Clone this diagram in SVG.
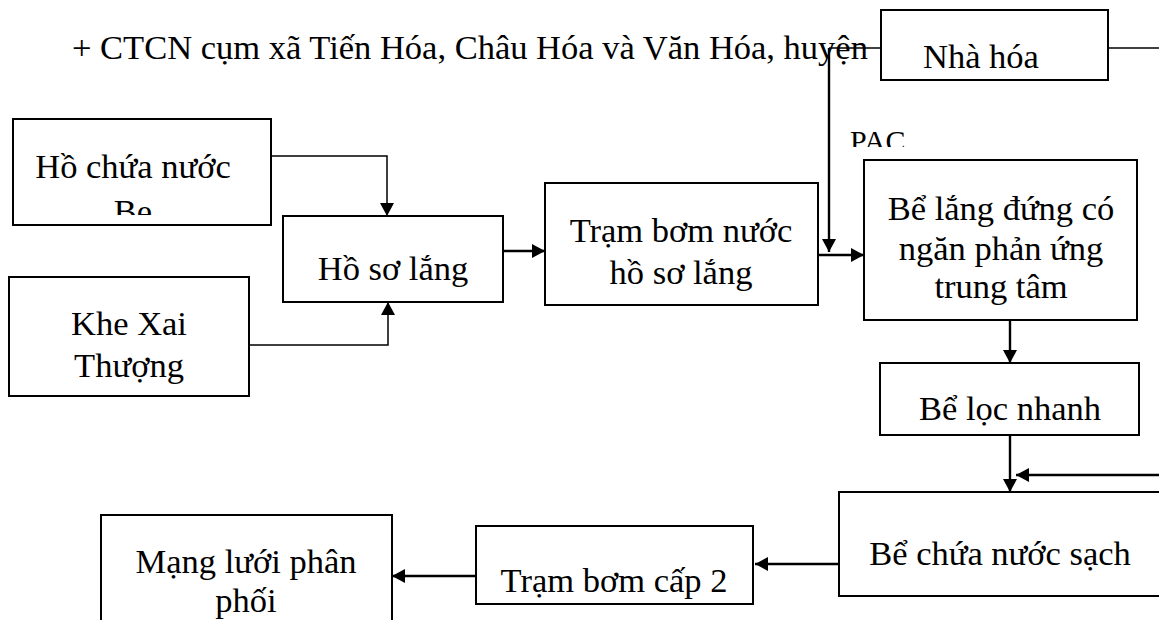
<svg xmlns="http://www.w3.org/2000/svg" width="1159" height="620" viewBox="0 0 1159 620">
  <style>
    .box { fill: #fff; stroke: #000; stroke-width: 2; }
    .t { font-family: "Liberation Serif", "Times New Roman", serif; font-size: 34.5px; fill: #000; }
    .c { text-anchor: middle; }
    .ln { fill: none; stroke: #000; stroke-width: 2.4; }
    .thin { stroke-width: 1.5; }
  </style>
  <defs>
    <marker id="ah" markerUnits="userSpaceOnUse" markerWidth="14" markerHeight="14" refX="13" refY="7" orient="auto">
      <path d="M0,0 L13,7 L0,14 Z" fill="#000"/>
    </marker>
    <clipPath id="clipBe"><rect x="14" y="120" width="256" height="95"/></clipPath>
    <clipPath id="clipPac"><rect x="840" y="100" width="80" height="47"/></clipPath>
  </defs>

  <rect width="1159" height="620" fill="#fff"/>

  <!-- heading line of the document -->
  <text class="t" x="72" y="59">+ CTCN cụm xã Tiến Hóa, Châu Hóa và Văn Hóa, huyện</text>

  <!-- connectors -->
  <g id="connectors">
    <path class="ln thin" d="M271,156 H387 V216" marker-end="url(#ah)"/>
    <path class="ln thin" d="M249,345 H388 V302" marker-end="url(#ah)"/>
    <path class="ln" d="M503,251 H545" marker-end="url(#ah)"/>
    <path class="ln" d="M818,255 H864" marker-end="url(#ah)"/>
    <path class="ln thin" d="M881,48 H829"/>
    <path class="ln" d="M829,48 V252" marker-end="url(#ah)"/>
    <path class="ln thin" d="M1108,48 H1159"/>
    <path class="ln" d="M1010,320 V363" marker-end="url(#ah)"/>
    <path class="ln" d="M1010,435 V492" marker-end="url(#ah)"/>
    <path class="ln" d="M1159,475 H1016" marker-end="url(#ah)"/>
    <path class="ln" d="M839,564 H755" marker-end="url(#ah)"/>
    <path class="ln" d="M476,576 H392" marker-end="url(#ah)"/>
  </g>

  <text class="t" x="850" y="151" font-size="30" style="font-size:30px" clip-path="url(#clipPac)">PAC</text>

  <g id="nha-hoa">
    <rect class="box" x="881" y="10" width="227" height="70"/>
    <text class="t" x="923" y="68">Nhà hóa</text>
  </g>

  <g id="ho-chua-nuoc-be">
    <rect class="box" x="13" y="119" width="258" height="106"/>
    <g clip-path="url(#clipBe)">
      <text class="t c" x="133" y="178">Hồ chứa nước</text>
      <text class="t c" x="133" y="223">Be</text>
    </g>
  </g>

  <g id="khe-xai-thuong">
    <rect class="box" x="9" y="277" width="240" height="119"/>
    <text class="t c" x="129" y="335">Khe Xai</text>
    <text class="t c" x="129" y="377">Thượng</text>
  </g>

  <g id="ho-so-lang">
    <rect class="box" x="283" y="216" width="220" height="86"/>
    <text class="t c" x="393" y="280">Hồ sơ lắng</text>
  </g>

  <g id="tram-bom-nuoc">
    <rect class="box" x="545" y="183" width="273" height="122"/>
    <text class="t c" x="681" y="242">Trạm bơm nước</text>
    <text class="t c" x="681" y="284">hồ sơ lắng</text>
  </g>

  <g id="be-lang-dung">
    <rect class="box" x="864" y="160" width="273" height="160"/>
    <text class="t c" x="1001" y="220">Bể lắng đứng có</text>
    <text class="t c" x="1001" y="260">ngăn phản ứng</text>
    <text class="t c" x="1001" y="298">trung tâm</text>
  </g>

  <g id="be-loc-nhanh">
    <rect class="box" x="880" y="363" width="259" height="72"/>
    <text class="t c" x="1010" y="420">Bể lọc nhanh</text>
  </g>

  <g id="be-chua-nuoc-sach">
    <rect class="box" x="839" y="492" width="340" height="104"/>
    <text class="t c" x="1000" y="565">Bể chứa nước sạch</text>
  </g>

  <g id="tram-bom-cap-2">
    <rect class="box" x="476" y="526" width="277" height="78"/>
    <text class="t c" x="614" y="592">Trạm bơm cấp 2</text>
  </g>

  <g id="mang-luoi-phan-phoi">
    <rect class="box" x="101" y="515" width="291" height="130"/>
    <text class="t c" x="246" y="573">Mạng lưới phân</text>
    <text class="t c" x="246" y="612">phối</text>
  </g>
</svg>
